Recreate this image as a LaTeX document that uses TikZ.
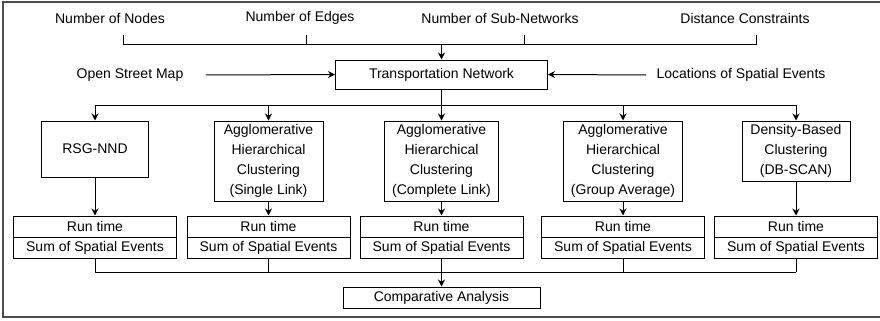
\documentclass[tikz,border=0pt]{standalone}
\usepackage{fontspec}
\setmainfont{Liberation Sans}
\usetikzlibrary{arrows.meta}

\begin{document}
\begin{tikzpicture}[x=0.5pt,y=-0.5pt,line width=0.5pt,
  font=\fontsize{7}{10}\selectfont,
  lbl/.style={inner sep=0pt},
  box/.style={draw,inner sep=0pt,align=center},
  arr/.style={-{Stealth[length=3.5pt,width=3.5pt]}}]
\useasboundingbox (0,0) rectangle (880,321);
\draw[line width=0.8pt,black!70] (3,2) rectangle (886,317);

% network parameters
\node[lbl] (nodes) at (110,18) {Number of Nodes};
\node[lbl] (edges) at (300,18) {Number of Edges};
\node[lbl] (subnet) at (500,18) {Number of Sub-Networks};
\node[lbl] (dist) at (745,18) {Distance Constraints};
\coordinate (tnodes) at (123,35);
\coordinate (tedges) at (306,35);
\coordinate (tsubnet) at (524,35);
\coordinate (tdist) at (756,35);
\coordinate (join) at (441.5,44);

\node[box,minimum width=106pt,minimum height=14.5pt] (tn) at (441.5,74.5) {Transportation Network};
\draw (tnodes) -- (tnodes |- join) -- (tdist |- join) -- (tdist);
\draw (tedges) -- (tedges |- join);
\draw (tsubnet) -- (tsubnet |- join);
\draw[arr] (join) -- (tn);

\node[lbl] (osm) at (130,75) {Open Street Map};
\node[lbl] (events) at (741,75) {Locations of Spatial Events};
\draw[arr] ([xshift=11pt]osm.east) -- (tn.west);
\draw[arr] ([xshift=-5pt]events.west) -- (tn.east);

% methods
\coordinate (split) at (441.5,105);
\node[box,minimum width=53.5pt,minimum height=28pt] (m1) at (95,149) {RSG-NND};
\node[box,minimum width=54.5pt,minimum height=40pt] (m2) at (268.5,161)
  {Agglomerative\\Hierarchical\\Clustering\\(Single Link)};
\node[box,minimum width=57pt,minimum height=40pt] (m3) at (441.5,161)
  {Agglomerative\\Hierarchical\\Clustering\\(Complete Link)};
\node[box,minimum width=59.5pt,minimum height=40pt] (m4) at (623,161)
  {Agglomerative\\Hierarchical\\Clustering\\(Group Average)};
\node[box,minimum width=54pt,minimum height=30pt] (m5) at (796,151)
  {Density-Based\\Clustering\\(DB-SCAN)};
\draw (tn) -- (split);
\draw (m1 |- split) -- (m5 |- split);
\foreach \i in {1,...,5}
  \draw[arr] (m\i |- split) -- (m\i);

% results
\coordinate (merge) at (441.5,272);
\foreach \i/\x in {1/95,2/268.5,3/441.5,4/623,5/796} {
  \node[box,minimum width=81.5pt,minimum height=10.5pt] (rt\i) at (\x,226.5) {Run time};
  \node[box,minimum width=81.5pt,minimum height=10.5pt] (se\i) at (\x,247.5) {Sum of Spatial Events};
  \draw[arr] (m\i) -- (rt\i);
  \draw (se\i) -- (se\i |- merge);
}
\draw (se1 |- merge) -- (se5 |- merge);

\node[box,minimum width=98.5pt,minimum height=10.5pt] (comp) at (441.5,297.5) {Comparative Analysis};
\draw[arr] (merge) -- (comp);
\end{tikzpicture}
\end{document}
